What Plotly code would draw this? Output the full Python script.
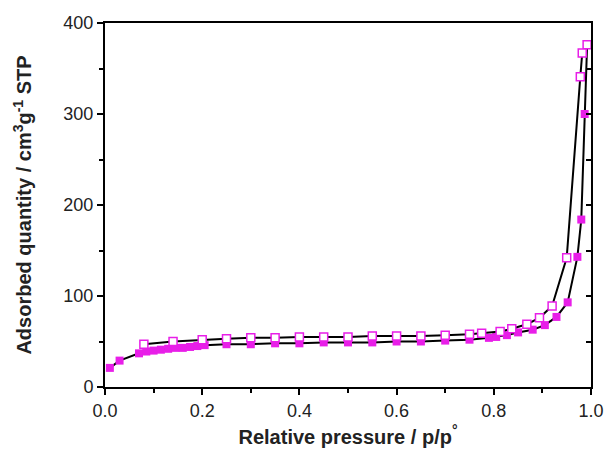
import plotly.graph_objects as go

# Adsorption branch (filled squares)
ads_p = [0.01, 0.03, 0.07, 0.085, 0.10, 0.115, 0.13, 0.145, 0.16, 0.175, 0.19, 0.205,
         0.25, 0.30, 0.35, 0.40, 0.45, 0.50, 0.55, 0.60, 0.65, 0.70, 0.75, 0.79,
         0.805, 0.827, 0.85, 0.88, 0.905, 0.929, 0.952, 0.972, 0.98, 0.987, 0.992]
ads_v = [21, 29, 37, 39, 40, 41, 42, 43, 43, 44, 45, 46,
         47, 47, 48, 48, 49, 49, 49, 50, 50, 51, 52, 54,
         55, 57, 60, 63, 68, 77, 93, 143, 184, 300, 376]

# Desorption branch (open squares)
des_p = [0.992, 0.982, 0.978, 0.95, 0.92, 0.894, 0.868, 0.837, 0.813, 0.775,
         0.75, 0.70, 0.65, 0.60, 0.55, 0.50, 0.45, 0.40, 0.35, 0.30, 0.25, 0.20, 0.14, 0.08]
des_v = [376, 367, 341, 142, 89, 76, 69, 64, 61, 59,
         58, 57, 56, 56, 56, 55, 55, 55, 54, 54, 53, 52, 50, 47]

x_ticks = [0.0, 0.2, 0.4, 0.6, 0.8, 1.0]
x_labels = ["0.0", "0.2", "0.4", "0.6", "0.8", "1.0"]
y_ticks = [0, 100, 200, 300, 400]

MAG = "#e81ee8"
fig = go.Figure()
fig.add_trace(go.Scatter(x=ads_p, y=ads_v, mode="lines+markers",
                         line=dict(color="black", width=2),
                         marker=dict(symbol="square", size=8, color=MAG, line=dict(width=0)),
                         cliponaxis=False, showlegend=False))
fig.add_trace(go.Scatter(x=des_p, y=des_v, mode="lines+markers",
                         line=dict(color="black", width=2),
                         marker=dict(symbol="square", size=8, color="white",
                                     line=dict(color=MAG, width=1.5)),
                         cliponaxis=False, showlegend=False))
# invisible trace for right axis
fig.add_trace(go.Scatter(x=[0], y=[0], yaxis="y2", mode="markers",
                         marker=dict(opacity=0), showlegend=False, hoverinfo="skip"))

tickfont = dict(family="Liberation Sans, Arial, sans-serif", size=18, color="#222")
titlefont = dict(family="Liberation Sans, Arial, sans-serif", size=20, color="#222", weight="bold")

fig.update_layout(
    width=616, height=457,
    margin=dict(l=105, r=17, t=23, b=69),
    paper_bgcolor="white", plot_bgcolor="white",
    xaxis=dict(range=[0, 1], tickvals=x_ticks, ticktext=x_labels,
               showgrid=False, zeroline=False,
               showline=True, linecolor="black", linewidth=2, mirror=True,
               ticks="outside", ticklen=6, tickwidth=2, tickcolor="black",
               minor=dict(ticks="outside", dtick=0.1, ticklen=4, tickwidth=2, tickcolor="black"),
               tickfont=tickfont,
               title=dict(text="Relative pressure / p/p<sup>°</sup>", font=titlefont, standoff=10)),
    yaxis=dict(range=[0, 400], tickvals=y_ticks,
               showgrid=False, zeroline=False,
               showline=True, linecolor="black", linewidth=2,
               ticks="outside", ticklen=6, tickwidth=2, tickcolor="black",
               minor=dict(ticks="outside", dtick=50, ticklen=4, tickwidth=2, tickcolor="black"),
               tickfont=tickfont,
               title=dict(text="Adsorbed quantity / cm<sup>3</sup>g<sup>-1</sup> STP",
                          font=titlefont, standoff=26)),
    yaxis2=dict(range=[0, 400], overlaying="y", side="right", dtick=50,
                showgrid=False, zeroline=False, showticklabels=False,
                showline=True, linecolor="black", linewidth=2,
                ticks="inside", ticklen=5, tickwidth=2, tickcolor="black"),
)

fig.write_html("out.html")
